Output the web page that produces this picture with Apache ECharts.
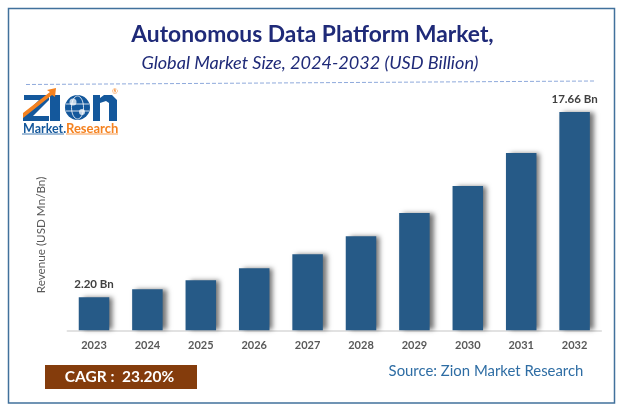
<!DOCTYPE html>
<html>
<head>
<meta charset="utf-8">
<style>html,body{margin:0;padding:0;background:#fff}#chart{width:622px;height:412px}</style>
<script src="https://cdn.jsdelivr.net/npm/echarts@6/dist/echarts.min.js"></script>
</head>
<body>
<div id="chart"></div>
<script>
var years = ['2023','2024','2025','2026','2027','2028','2029','2030','2031','2032'];
var revenue = [2.20, 2.87, 3.62, 4.62, 5.79, 7.30, 9.22, 11.48, 14.24, 17.66];
var labelled = ['2023', '2032'];
var axisMin = -0.56;

var myChart = echarts.init(document.getElementById('chart'));
var font = 'Lato, "Open Sans", sans-serif';
var logoBlue = '#14589c';
var logoOrange = '#f58220';

// the source bars don't start at zero, so a custom series draws them from the axis min
function renderBar(params, api) {
    var i = api.value(0);
    var v = api.value(1);
    var top = api.coord([i, v]);
    var base = api.coord([i, axisMin]);
    var children = [{
        type: 'rect',
        shape: { x: top[0] - 15.25, y: top[1], width: 30.5, height: base[1] - top[1] },
        style: {
            fill: '#265a87',
            shadowColor: 'rgba(0,0,0,0.55)',
            shadowBlur: 5,
            shadowOffsetX: 4,
            shadowOffsetY: 0
        }
    }];
    if (labelled.indexOf(years[i]) >= 0) {
        children.push({
            type: 'text',
            style: {
                x: top[0],
                y: top[1] - 7,
                text: v.toFixed(2) + ' Bn',
                font: 'bold 11.5px ' + font,
                fill: '#404040',
                align: 'center',
                verticalAlign: 'bottom'
            }
        });
    }
    return { type: 'group', children: children };
}

option = {
    animation: false,
    backgroundColor: '#fff',
    title: [{
        text: 'Autonomous Data Platform Market,',
        left: 307.5, top: 18, textAlign: 'center',
        textStyle: { fontFamily: font, fontSize: 22.8, fontWeight: 'bold', color: '#1f2a78' }
    }, {
        text: 'Global Market Size, 2024-2032 (USD Billion)',
        left: 305, top: 49, textAlign: 'center',
        textStyle: { fontFamily: font, fontSize: 18.1, fontStyle: 'italic', fontWeight: 'normal', color: '#1f2a78' }
    }],
    grid: { left: 67.3, right: 20.7, top: 112, bottom: 81.7 },
    xAxis: {
        type: 'category',
        data: years,
        axisTick: { show: false },
        axisLine: { onZero: false, lineStyle: { color: '#d9d9d9', width: 1.5 } },
        axisLabel: { margin: 10, fontFamily: font, fontSize: 11, fontWeight: 'bold', color: '#595959' }
    },
    yAxis: {
        type: 'value',
        min: axisMin,
        max: 17.66,
        show: false
    },
    series: [{
        type: 'custom',
        data: revenue.map(function (v, i) { return [i, v]; }),
        encode: { x: 0, y: 1 },
        clip: false,
        renderItem: renderBar
    }],
    graphic: [
        { type: 'rect', shape: { x: 8.5, y: 8.5, width: 606, height: 394.5 }, style: { fill: 'none', stroke: '#41719c', lineWidth: 1.5 } },
        { type: 'line', shape: { x1: 26, y1: 84.5, x2: 595, y2: 81 }, style: { stroke: '#8faadc', lineWidth: 1, lineDash: [4, 2] } },
        { type: 'text', rotation: Math.PI / 2, x: 41, y: 235, style: { text: 'Revenue (USD Mn/Bn)', fontFamily: font, fontSize: 11.7, fill: '#595959', textAlign: 'center', textVerticalAlign: 'middle' } },
        { type: 'rect', shape: { x: 45, y: 365, width: 152, height: 24 }, style: { fill: '#843c0c' } },
        { type: 'text', x: 119.5, y: 377, style: { text: 'CAGR :  23.20%', fontFamily: font, fontSize: 15.5, fontWeight: 'bold', fill: '#fff', textAlign: 'center', textVerticalAlign: 'middle' } },
        { type: 'text', x: 486, y: 371, style: { text: 'Source: Zion Market Research', fontFamily: font, fontSize: 14.9, fill: '#2e6da4', textAlign: 'center', textVerticalAlign: 'middle' } },
        // logo
        { type: 'polygon', shape: { points: [[24, 95], [49, 95], [49, 100], [33, 116], [49, 116], [49, 121], [23, 121], [23, 116], [39, 100], [24, 100]] }, style: { fill: logoBlue } },
        { type: 'rect', shape: { x: 50, y: 95, width: 10, height: 26 }, style: { fill: logoBlue } },
        { type: 'circle', shape: { cx: 77.5, cy: 107.5, r: 12.5 }, style: { fill: logoBlue } },
        { type: 'ellipse', shape: { cx: 77.5, cy: 107.5, rx: 6, ry: 11.5 }, style: { fill: 'none', stroke: '#fff', lineWidth: 0.8 } },
        { type: 'line', shape: { x1: 66, y1: 104, x2: 89, y2: 104 }, style: { stroke: '#fff', lineWidth: 0.8 } },
        { type: 'line', shape: { x1: 66, y1: 111, x2: 89, y2: 111 }, style: { stroke: '#fff', lineWidth: 0.8 } },
        { type: 'circle', shape: { cx: 73, cy: 102, r: 3.5 }, style: { fill: '#fff', opacity: 0.75 } },
        { type: 'circle', shape: { cx: 82, cy: 112, r: 3 }, style: { fill: '#fff', opacity: 0.75 } },
        { type: 'polygon', shape: { points: [[93, 95], [100, 95], [100, 98], [104, 95], [112, 95], [117, 100], [117, 121], [109, 121], [109, 103], [106, 101], [100, 103], [100, 121], [93, 121]] }, style: { fill: logoBlue } },
        { type: 'polygon', shape: { points: [[23, 118], [23, 113], [50, 92], [47, 90], [56, 88], [55, 97], [52, 95]] }, style: { fill: logoOrange } },
        { type: 'text', x: 115, y: 92, style: { text: '®', fontFamily: font, fontSize: 7, fill: logoOrange, textAlign: 'center', textVerticalAlign: 'middle' } },
        { type: 'text', x: 23, y: 129, style: { text: 'Market.', fontFamily: font, fontSize: 12.5, fontWeight: 'bold', fill: logoBlue, textVerticalAlign: 'middle' } },
        { type: 'text', x: 66, y: 129, style: { text: 'Research', fontFamily: font, fontSize: 13, fontWeight: 'bold', fill: logoOrange, textVerticalAlign: 'middle' } },
        { type: 'line', shape: { x1: 22, y1: 134, x2: 64, y2: 134 }, style: { stroke: logoBlue, lineWidth: 0.8 } },
        { type: 'line', shape: { x1: 66, y1: 134, x2: 118, y2: 134 }, style: { stroke: logoOrange, lineWidth: 0.8 } }
    ]
};

myChart.setOption(option, true);
</script>
</body>
</html>
